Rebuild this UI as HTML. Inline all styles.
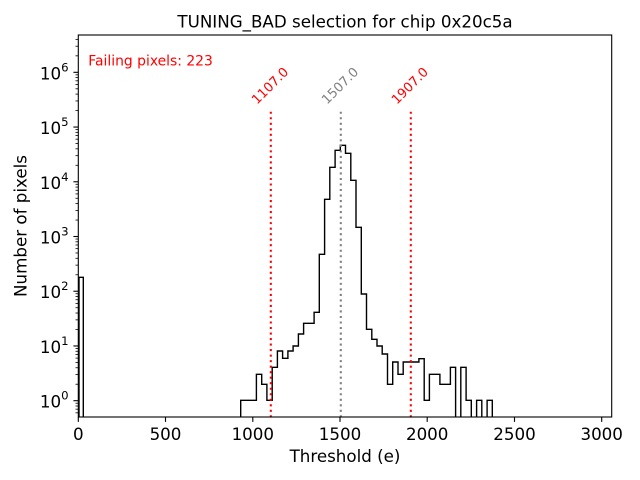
<!DOCTYPE html>
<html>
<head>
<meta charset="utf-8">
<style>
html,body{margin:0;padding:0;background:#fff;}
svg{display:block;}
text{font-family:"DejaVu Sans","Liberation Sans",sans-serif;}
</style>
</head>
<body>
<svg width="640" height="480" viewBox="0 0 640 480" xmlns="http://www.w3.org/2000/svg">
<defs>
<clipPath id="ax"><rect x="78.3" y="35" width="533.4" height="381.5"/></clipPath>
</defs>
<rect x="0" y="0" width="640" height="480" fill="#fff"/>
<text x="345" y="27.5" font-size="16.7" text-anchor="middle" fill="#000">TUNING_BAD selection for chip 0x20c5a</text>
<g clip-path="url(#ax)">
<path d="M79.0,421 V277.3 H83.3 V421 H240.7 V400.3 H256.4 V374.3 H261.7 V384.3 H266.9 V400.3 H272.2 V367.3 H277.4 V351 H282.6 V358.3 H287.9 V351 H293.1 V346 H298.4 V334 H303.6 V323.3 H314.1 V312.3 H319.3 V254.3 H324.6 V199.3 H329.8 V167.3 H335.1 V150.3 H340.3 V145.3 H345.5 V153.3 H350.8 V180.3 H356.0 V227.3 H361.3 V294 H366.5 V329.3 H371.8 V339.3 H377.0 V346 H382.2 V354 H387.5 V384.3 H392.7 V362 H398.0 V374.3 H403.2 V362 H418.9 V358.7 H424.2 V400.3 H429.4 V374.3 H439.9 V384.3 H450.4 V367.3 H455.6 V421 H460.8 V367.3 H466.1 V400.3 H471.3 V421 H476.6 V400.3 H481.8 V421 H487.1 V400.3 H492.3 V421" fill="none" stroke="#000" stroke-width="1.4" stroke-linejoin="miter"/>
<line x1="270.8" y1="111.7" x2="270.8" y2="417" stroke="#ff0000" stroke-width="2.08" stroke-dasharray="2.08 3.44"/>
<line x1="340.8" y1="111.7" x2="340.8" y2="417" stroke="#808080" stroke-width="2.08" stroke-dasharray="2.08 3.44"/>
<line x1="410.8" y1="111.7" x2="410.8" y2="417" stroke="#ff0000" stroke-width="2.08" stroke-dasharray="2.08 3.44"/>
</g>
<g transform="translate(269.8,85.5) rotate(-45)"><text x="0" y="4.7" font-size="13" text-anchor="middle" fill="#ff0000">1107.0</text></g>
<g transform="translate(339.8,85.5) rotate(-45)"><text x="0" y="4.7" font-size="13" text-anchor="middle" fill="#808080">1507.0</text></g>
<g transform="translate(409.6,85.5) rotate(-45)"><text x="0" y="4.7" font-size="13" text-anchor="middle" fill="#ff0000">1907.0</text></g>
<text x="88.3" y="65.5" font-size="13.9" fill="#ff0000">Failing pixels: 223</text>
<rect x="78.3" y="35" width="533.4" height="382" fill="none" stroke="#000" stroke-width="1.1"/>
<g stroke="#000" stroke-width="1.1">
<line x1="78.3" y1="417" x2="78.3" y2="421.9"/>
<line x1="165.5" y1="417" x2="165.5" y2="421.9"/>
<line x1="252.8" y1="417" x2="252.8" y2="421.9"/>
<line x1="340.0" y1="417" x2="340.0" y2="421.9"/>
<line x1="427.2" y1="417" x2="427.2" y2="421.9"/>
<line x1="514.5" y1="417" x2="514.5" y2="421.9"/>
<line x1="601.7" y1="417" x2="601.7" y2="421.9"/>
</g>
<g font-size="16.7" text-anchor="middle" fill="#000">
<text x="78.3" y="440">0</text>
<text x="165.5" y="440">500</text>
<text x="252.8" y="440">1000</text>
<text x="340.0" y="440">1500</text>
<text x="427.2" y="440">2000</text>
<text x="514.5" y="440">2500</text>
<text x="601.7" y="440">3000</text>
</g>
<text x="345" y="462" font-size="16.7" text-anchor="middle" fill="#000">Threshold (e)</text>
<g stroke="#000" stroke-width="1.1">
<line x1="78.3" y1="400.7" x2="73.4" y2="400.7"/>
<line x1="78.3" y1="345.97" x2="73.4" y2="345.97"/>
<line x1="78.3" y1="291.24" x2="73.4" y2="291.24"/>
<line x1="78.3" y1="236.51" x2="73.4" y2="236.51"/>
<line x1="78.3" y1="181.78" x2="73.4" y2="181.78"/>
<line x1="78.3" y1="127.05" x2="73.4" y2="127.05"/>
<line x1="78.3" y1="72.32" x2="73.4" y2="72.32"/>
</g>
<g stroke="#000" stroke-width="0.8">
<line x1="78.3" y1="412.84" x2="75.5" y2="412.84"/>
<line x1="78.3" y1="409.18" x2="75.5" y2="409.18"/>
<line x1="78.3" y1="406.0" x2="75.5" y2="406.0"/>
<line x1="78.3" y1="403.21" x2="75.5" y2="403.21"/>
<line x1="78.3" y1="384.22" x2="75.5" y2="384.22"/>
<line x1="78.3" y1="374.59" x2="75.5" y2="374.59"/>
<line x1="78.3" y1="367.75" x2="75.5" y2="367.75"/>
<line x1="78.3" y1="362.45" x2="75.5" y2="362.45"/>
<line x1="78.3" y1="358.11" x2="75.5" y2="358.11"/>
<line x1="78.3" y1="354.45" x2="75.5" y2="354.45"/>
<line x1="78.3" y1="351.27" x2="75.5" y2="351.27"/>
<line x1="78.3" y1="348.48" x2="75.5" y2="348.48"/>
<line x1="78.3" y1="329.49" x2="75.5" y2="329.49"/>
<line x1="78.3" y1="319.86" x2="75.5" y2="319.86"/>
<line x1="78.3" y1="313.02" x2="75.5" y2="313.02"/>
<line x1="78.3" y1="307.72" x2="75.5" y2="307.72"/>
<line x1="78.3" y1="303.38" x2="75.5" y2="303.38"/>
<line x1="78.3" y1="299.72" x2="75.5" y2="299.72"/>
<line x1="78.3" y1="296.54" x2="75.5" y2="296.54"/>
<line x1="78.3" y1="293.75" x2="75.5" y2="293.75"/>
<line x1="78.3" y1="274.76" x2="75.5" y2="274.76"/>
<line x1="78.3" y1="265.13" x2="75.5" y2="265.13"/>
<line x1="78.3" y1="258.29" x2="75.5" y2="258.29"/>
<line x1="78.3" y1="252.99" x2="75.5" y2="252.99"/>
<line x1="78.3" y1="248.65" x2="75.5" y2="248.65"/>
<line x1="78.3" y1="244.99" x2="75.5" y2="244.99"/>
<line x1="78.3" y1="241.81" x2="75.5" y2="241.81"/>
<line x1="78.3" y1="239.02" x2="75.5" y2="239.02"/>
<line x1="78.3" y1="220.03" x2="75.5" y2="220.03"/>
<line x1="78.3" y1="210.40" x2="75.5" y2="210.40"/>
<line x1="78.3" y1="203.56" x2="75.5" y2="203.56"/>
<line x1="78.3" y1="198.26" x2="75.5" y2="198.26"/>
<line x1="78.3" y1="193.92" x2="75.5" y2="193.92"/>
<line x1="78.3" y1="190.26" x2="75.5" y2="190.26"/>
<line x1="78.3" y1="187.08" x2="75.5" y2="187.08"/>
<line x1="78.3" y1="184.29" x2="75.5" y2="184.29"/>
<line x1="78.3" y1="165.30" x2="75.5" y2="165.30"/>
<line x1="78.3" y1="155.67" x2="75.5" y2="155.67"/>
<line x1="78.3" y1="148.83" x2="75.5" y2="148.83"/>
<line x1="78.3" y1="143.53" x2="75.5" y2="143.53"/>
<line x1="78.3" y1="139.19" x2="75.5" y2="139.19"/>
<line x1="78.3" y1="135.53" x2="75.5" y2="135.53"/>
<line x1="78.3" y1="132.35" x2="75.5" y2="132.35"/>
<line x1="78.3" y1="129.56" x2="75.5" y2="129.56"/>
<line x1="78.3" y1="110.57" x2="75.5" y2="110.57"/>
<line x1="78.3" y1="100.94" x2="75.5" y2="100.94"/>
<line x1="78.3" y1="94.10" x2="75.5" y2="94.10"/>
<line x1="78.3" y1="88.80" x2="75.5" y2="88.80"/>
<line x1="78.3" y1="84.46" x2="75.5" y2="84.46"/>
<line x1="78.3" y1="80.80" x2="75.5" y2="80.80"/>
<line x1="78.3" y1="77.62" x2="75.5" y2="77.62"/>
<line x1="78.3" y1="74.83" x2="75.5" y2="74.83"/>
<line x1="78.3" y1="55.84" x2="75.5" y2="55.84"/>
<line x1="78.3" y1="46.21" x2="75.5" y2="46.21"/>
<line x1="78.3" y1="39.37" x2="75.5" y2="39.37"/>
</g>
<g font-size="16.7" text-anchor="end" fill="#000">
<text x="68.5" y="407.7">10<tspan dy="-8" font-size="11.7">0</tspan></text>
<text x="68.5" y="353.0">10<tspan dy="-8" font-size="11.7">1</tspan></text>
<text x="68.5" y="298.2">10<tspan dy="-8" font-size="11.7">2</tspan></text>
<text x="68.5" y="243.5">10<tspan dy="-8" font-size="11.7">3</tspan></text>
<text x="68.5" y="188.8">10<tspan dy="-8" font-size="11.7">4</tspan></text>
<text x="68.5" y="134.0">10<tspan dy="-8" font-size="11.7">5</tspan></text>
<text x="68.5" y="79.3">10<tspan dy="-8" font-size="11.7">6</tspan></text>
</g>
<g transform="translate(26.5,226) rotate(-90)"><text x="0" y="0" font-size="16.7" text-anchor="middle" fill="#000">Number of pixels</text></g>
</svg>
</body>
</html>
